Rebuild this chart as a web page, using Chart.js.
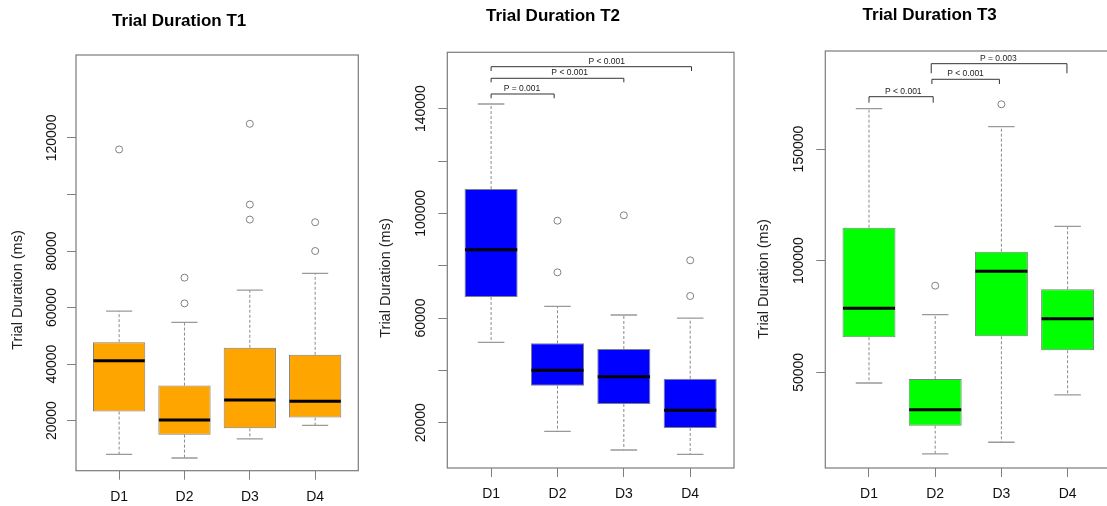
<!DOCTYPE html>
<html>
<head>
<meta charset="utf-8">
<script src="https://cdn.jsdelivr.net/npm/chart.js@4.4.1/dist/chart.umd.min.js"></script>
<style>
  html, body { margin: 0; padding: 0; background: #fff; overflow: hidden; width: 1107px; height: 506px; }
  .panel { position: absolute; top: 0; }
</style>
</head>
<body>
<div class="panel" style="left:0px"><canvas id="t1" width="372" height="506"></canvas></div>
<div class="panel" style="left:372px"><canvas id="t2" width="376" height="506"></canvas></div>
<div class="panel" style="left:748px"><canvas id="t3" width="372" height="506"></canvas></div>
<script>
// groups on the x axis
const categories = ['D1', 'D2', 'D3', 'D4'];
const categoryX = [1, 2, 3, 4];

// T1 box statistics (ms)
const t1Low = [8060, 6780, 13510, 18340];
const t1Q1 = [23190, 15040, 17270, 21060];
const t1Median = [41150, 20250, 27330, 26840];
const t1Q3 = [47750, 32400, 45760, 43280];
const t1High = [58740, 54730, 66170, 72090];
const t1Outliers = [[115930], [70570, 61460], [125000, 96440, 91120], [90170, 80000]];
const t1Ticks = [20000, 40000, 60000, 80000, 100000, 120000];
const t1TickLabels = [20000, 40000, 60000, 80000, 120000];

// T2
const t2Low = [50730, 16700, 9570, 7920];
const t2Q1 = [68040, 34140, 27150, 17980];
const t2Median = [86120, 40030, 37580, 24740];
const t2Q3 = [109310, 50340, 48170, 36820];
const t2High = [141800, 64480, 61160, 60000];
const t2Outliers = [[], [97200, 77470], [99260], [82060, 68420]];
const t2Ticks = [20000, 40000, 60000, 80000, 100000, 120000, 140000];
const t2TickLabels = [20000, 60000, 100000, 140000];
const t2Brackets = [
    { from: 1, to: 1.95, at: 145620, leg: 1650, labelAt: 1.465, label: 'P = 0.001' },
    { from: 1, to: 3, at: 151620, leg: 1550, labelAt: 2.184, label: 'P < 0.001' },
    { from: 1, to: 4.02, at: 156050, leg: 1650, labelAt: 2.742, label: 'P < 0.001' }
];

// T3
const t3Low = [45240, 13450, 18690, 39870];
const t3Q1 = [65700, 26120, 66150, 59880];
const t3Median = [78680, 33300, 95250, 74030];
const t3Q3 = [114780, 47030, 104030, 87190];
const t3High = [168060, 75820, 160000, 115400];
const t3Outliers = [[], [88810], [170030], []];
const t3Ticks = [50000, 100000, 150000];
const t3TickLabels = [50000, 100000, 150000];
const t3Brackets = [
    { from: 1, to: 1.97, at: 173430, leg: 2690, labelAt: 1.518, label: 'P < 0.001' },
    { from: 1.95, to: 2.97, at: 181220, leg: 2100, labelAt: 2.458, label: 'P < 0.001' },
    { from: 1.94, to: 3.99, at: 188210, leg: 4300, labelAt: 2.953, label: 'P = 0.003' }
];

const FONT = '"Liberation Sans", Arial, sans-serif';
Chart.defaults.font.family = FONT;

// whiskers, medians, frame, p-value brackets, rotated y labels and y title
function boxExtras(p) {
    return {
        id: 'boxExtras',
        afterDatasetsDraw(chart) {
            const { ctx, chartArea: a, scales: { x, y } } = chart;
            ctx.save();

            categoryX.forEach((c, i) => {
                const cx = x.getPixelForValue(c);
                const capL = x.getPixelForValue(c - 0.2);
                const capR = x.getPixelForValue(c + 0.2);
                const boxL = x.getPixelForValue(c - 0.4);
                const boxR = x.getPixelForValue(c + 0.4);

                ctx.strokeStyle = '#8a8a8a';
                ctx.lineWidth = 1;
                ctx.setLineDash([3, 2]);
                ctx.beginPath();
                ctx.moveTo(cx, y.getPixelForValue(p.q3[i]));
                ctx.lineTo(cx, y.getPixelForValue(p.high[i]));
                ctx.moveTo(cx, y.getPixelForValue(p.q1[i]));
                ctx.lineTo(cx, y.getPixelForValue(p.low[i]));
                ctx.stroke();

                ctx.setLineDash([]);
                ctx.strokeStyle = '#999';
                ctx.lineWidth = 1.3;
                ctx.beginPath();
                ctx.moveTo(capL, y.getPixelForValue(p.high[i]));
                ctx.lineTo(capR, y.getPixelForValue(p.high[i]));
                ctx.moveTo(capL, y.getPixelForValue(p.low[i]));
                ctx.lineTo(capR, y.getPixelForValue(p.low[i]));
                ctx.stroke();

                ctx.strokeStyle = '#000';
                ctx.lineWidth = 3;
                ctx.beginPath();
                ctx.moveTo(boxL + 0.5, y.getPixelForValue(p.median[i]));
                ctx.lineTo(boxR - 0.5, y.getPixelForValue(p.median[i]));
                ctx.stroke();
            });

            // p-value brackets
            ctx.strokeStyle = '#333';
            ctx.lineWidth = 1;
            ctx.fillStyle = '#222';
            ctx.font = '8.5px ' + FONT;
            ctx.textAlign = 'center';
            ctx.textBaseline = 'alphabetic';
            (p.brackets || []).forEach(b => {
                const x1 = x.getPixelForValue(b.from);
                const x2 = x.getPixelForValue(b.to);
                const yl = y.getPixelForValue(b.at);
                const yd = y.getPixelForValue(b.at - b.leg);
                ctx.beginPath();
                ctx.moveTo(x1, yd);
                ctx.lineTo(x1, yl);
                ctx.lineTo(x2, yl);
                ctx.lineTo(x2, yd);
                ctx.stroke();
                ctx.fillText(b.label, x.getPixelForValue(b.labelAt), yl - 3);
            });

            // plot frame
            ctx.strokeStyle = '#7a7a7a';
            ctx.lineWidth = 1.2;
            ctx.strokeRect(a.left, a.top, a.right - a.left, a.bottom - a.top);

            // y tick labels, vertical like R's default
            ctx.fillStyle = '#111';
            ctx.font = '14px ' + FONT;
            ctx.textAlign = 'center';
            ctx.textBaseline = 'middle';
            p.tickLabels.forEach(v => {
                ctx.save();
                ctx.translate(a.left - p.tickGap, y.getPixelForValue(v));
                ctx.rotate(-Math.PI / 2);
                ctx.fillText(String(v), 0, 0);
                ctx.restore();
            });

            // y axis title
            ctx.translate(p.yTitleX, p.yTitleY);
            ctx.rotate(-Math.PI / 2);
            ctx.fillStyle = '#222';
            ctx.font = '14.5px ' + FONT;
            ctx.fillText('Trial Duration (ms)', 0, 0);
            ctx.restore();
        }
    };
}

function makeChart(id, p) {
    const boxes = categoryX.map((c, i) => ({ x: c, y: [p.q1[i], p.q3[i]] }));
    const points = p.outliers.flatMap((vals, i) => vals.map(v => ({ x: categoryX[i], y: v })));

    new Chart(document.getElementById(id), {
        type: 'bar',
        data: {
            datasets: [
                {
                    type: 'bar',
                    data: boxes,
                    backgroundColor: p.color,
                    borderColor: '#7f7f7f',
                    borderWidth: 1,
                    borderSkipped: false,
                    barPercentage: 0.8,
                    categoryPercentage: 1,
                    order: 2
                },
                {
                    type: 'scatter',
                    data: points,
                    pointStyle: 'circle',
                    pointRadius: 3.5,
                    borderColor: '#808080',
                    backgroundColor: 'rgba(0,0,0,0)',
                    borderWidth: 1,
                    order: 1
                }
            ]
        },
        options: {
            responsive: false,
            animation: false,
            devicePixelRatio: 1,
            layout: { padding: { left: 0, right: p.padRight, top: 0, bottom: 0 } },
            plugins: {
                legend: { display: false },
                tooltip: { enabled: false },
                title: {
                    display: true,
                    text: p.title,
                    color: '#000',
                    font: { size: 17, weight: 'bold' },
                    padding: p.titlePad
                }
            },
            scales: {
                x: {
                    type: 'linear',
                    min: 0.34,
                    max: 4.66,
                    offset: false,
                    grid: { offset: false, drawOnChartArea: false, drawTicks: true, tickLength: 9, color: '#7f7f7f' },
                    border: { display: false },
                    afterBuildTicks: s => { s.ticks = categoryX.map(v => ({ value: v })); },
                    afterFit: s => { s.height = p.xAxisHeight; },
                    ticks: {
                        autoSkip: false,
                        maxRotation: 0,
                        padding: 9,
                        color: '#111',
                        font: { size: 14 },
                        callback: v => categories[v - 1]
                    }
                },
                y: {
                    type: 'linear',
                    min: p.yMin,
                    max: p.yMax,
                    grid: { drawOnChartArea: false, drawTicks: true, tickLength: 9, color: '#7f7f7f' },
                    border: { display: false },
                    afterBuildTicks: s => { s.ticks = p.ticks.map(v => ({ value: v })); },
                    afterFit: s => { s.width = p.yAxisWidth; },
                    ticks: { display: false, autoSkip: false }
                }
            }
        },
        plugins: [boxExtras(p)]
    });
}

makeChart('t1', {
    title: 'Trial Duration T1', color: '#FFA500',
    low: t1Low, q1: t1Q1, median: t1Median, q3: t1Q3, high: t1High, outliers: t1Outliers,
    ticks: t1Ticks, tickLabels: t1TickLabels, yMin: 2280, yMax: 149340,
    yAxisWidth: 76, xAxisHeight: 35.3, padRight: 13.7, tickGap: 24.3,
    titlePad: { top: 11.5, bottom: 23.1 },
    yTitleX: 17.5, yTitleY: 290
});

makeChart('t2', {
    title: 'Trial Duration T2', color: '#0000FF',
    low: t2Low, q1: t2Q1, median: t2Median, q3: t2Q3, high: t2High, outliers: t2Outliers,
    ticks: t2Ticks, tickLabels: t2TickLabels, yMin: 2690, yMax: 161550, brackets: t2Brackets,
    yAxisWidth: 75.3, xAxisHeight: 38, padRight: 14, tickGap: 26.5,
    titlePad: { top: 6.5, bottom: 25.4 },
    yTitleX: 13.5, yTitleY: 278
});

makeChart('t3', {
    title: 'Trial Duration T3', color: '#00FF00',
    low: t3Low, q1: t3Q1, median: t3Median, q3: t3Q3, high: t3High, outliers: t3Outliers,
    ticks: t3Ticks, tickLabels: t3TickLabels, yMin: 7170, yMax: 193890, brackets: t3Brackets,
    yAxisWidth: 77.3, xAxisHeight: 38, padRight: 8.7, tickGap: 26.6,
    titlePad: { top: 5.5, bottom: 25.1 },
    yTitleX: 15.8, yTitleY: 279
});
</script>
</body>
</html>
